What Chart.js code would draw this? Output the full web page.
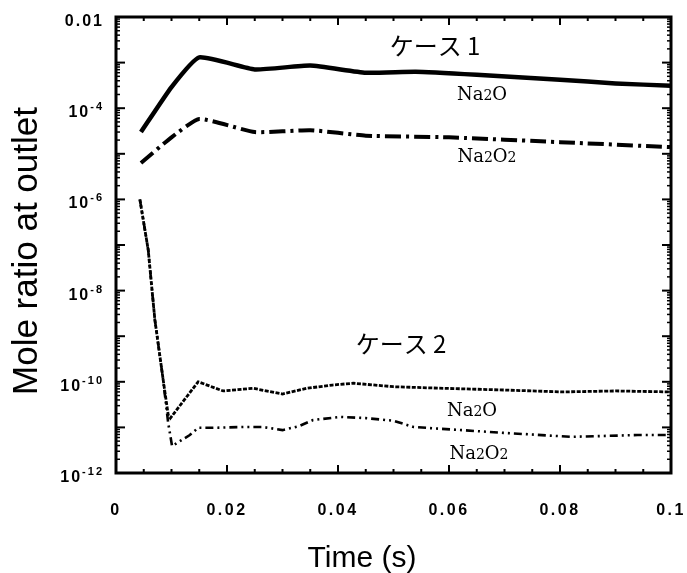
<!DOCTYPE html>
<html><head><meta charset="utf-8">
<script src="https://cdn.jsdelivr.net/npm/chart.js@4.4.1/dist/chart.umd.min.js"></script>
<style>html,body{margin:0;padding:0;background:#fff}#wrap{width:687px;height:573px}</style>
</head><body><div id="wrap"><canvas id="c" width="687" height="573"></canvas></div>
<script>
// ---- data ----
const xTickValues = [0, 0.02, 0.04, 0.06, 0.08, 0.1];
const xTickLabels = ['0', '0.02', '0.04', '0.06', '0.08', '0.1'];
const yTickValues = [1e-12, 1e-10, 1e-8, 1e-6, 1e-4, 1e-2];
const yTickBases = ['10', '10', '10', '10', '10', '0.01'];
const yTickExponents = ['-12', '-10', '-8', '-6', '-4', ''];

// ケース 1
const case1Na2O_t  = [0.0045, 0.01, 0.015, 0.025, 0.035, 0.045, 0.054, 0.065, 0.08, 0.09, 0.1];
const case1Na2O_v  = [3.0e-5, 2.9e-4, 1.3e-3, 7.1e-4, 8.6e-4, 6.0e-4, 6.3e-4, 5.4e-4, 4.2e-4, 3.5e-4, 3.1e-4];
const case1Na2O2_t = [0.0045, 0.01, 0.015, 0.025, 0.035, 0.045, 0.06, 0.08, 0.1];
const case1Na2O2_v = [6.3e-6, 2.3e-5, 5.8e-5, 3.0e-5, 3.3e-5, 2.5e-5, 2.3e-5, 1.8e-5, 1.4e-5];

// ケース 2
const case2Na2O_t  = [0.0043, 0.0058, 0.007, 0.0085, 0.0094, 0.0098, 0.0148, 0.0193, 0.0247, 0.03, 0.0344, 0.039, 0.0428, 0.05, 0.059, 0.07, 0.0805, 0.09, 0.1];
const case2Na2O_v  = [1.0e-6, 7.9e-8, 2.3e-9, 1.1e-10, 1.9e-11, 1.6e-11, 1.0e-10, 6.3e-11, 7.2e-11, 5.4e-11, 7.2e-11, 8.5e-11, 9.3e-11, 7.8e-11, 7.2e-11, 6.6e-11, 6.0e-11, 6.3e-11, 6.0e-11];
const case2Na2O2_t = [0.0043, 0.0058, 0.007, 0.0085, 0.0094, 0.0101, 0.0133, 0.0148, 0.0175, 0.023, 0.0265, 0.03, 0.033, 0.0355, 0.0404, 0.045, 0.05, 0.0536, 0.0698, 0.082, 0.094, 0.1];
const case2Na2O2_v = [1.0e-6, 7.9e-8, 2.3e-9, 1.1e-10, 1.26e-11, 3.9e-12, 6.8e-12, 9.8e-12, 9.8e-12, 1.02e-11, 1.02e-11, 8.7e-12, 1.07e-11, 1.45e-11, 1.7e-11, 1.6e-11, 1.4e-11, 1.02e-11, 7.6e-12, 6.2e-12, 6.8e-12, 6.8e-12];

const xTitle = 'Time (s)';
const yTitle = 'Mole ratio at outlet';

// ---- chart ----
const pts = (t, v) => t.map((x, i) => ({x: x, y: v[i]}));
const SANS = "'Liberation Sans','DejaVu Sans',Arial,sans-serif";
const SERIF = "'DejaVu Serif','Liberation Serif',serif";
const JP = "'Noto Sans CJK JP',sans-serif";

function runs(ctx, x, y, parts, align) {
  // parts: [text, font, dy]
  let w = 0;
  parts.forEach(p => { ctx.font = p[1]; w += ctx.measureText(p[0]).width; });
  let cx = align === 'center' ? x - w / 2 : (align === 'right' ? x - w : x);
  ctx.textAlign = 'left';
  parts.forEach(p => { ctx.font = p[1]; ctx.fillText(p[0], cx, y + (p[2] || 0)); cx += ctx.measureText(p[0]).width; });
}

const decor = {
  id: 'decor',
  beforeDraw(chart) { chart.ctx.letterSpacing = '2.5px'; },
  beforeDatasetsDraw(chart) { chart.ctx.letterSpacing = '0px'; },
  afterDraw(chart) {
    const ctx = chart.ctx, a = chart.chartArea, xs = chart.scales.x, ys = chart.scales.y;
    ctx.save();
    ctx.letterSpacing = '0px';
    ctx.strokeStyle = '#000';
    ctx.lineCap = 'butt';
    const seg = (x1, y1, x2, y2) => { ctx.beginPath(); ctx.moveTo(x1, y1); ctx.lineTo(x2, y2); ctx.stroke(); };
    // ticks on x (top & bottom)
    ctx.lineWidth = 2;
    for (let i = 0; i <= 20; i++) {
      const px = xs.getPixelForValue(i * 0.005);
      const L = (i % 4 === 0) ? 8 : 4;
      seg(px, a.bottom, px, a.bottom - L);
      seg(px, a.top, px, a.top + L);
    }
    // ticks on y (left & right)
    for (let e = -12; e <= -2; e++) {
      const py = ys.getPixelForValue(Math.pow(10, e));
      ctx.lineWidth = 2;
      seg(a.left, py, a.left + 9, py);
      seg(a.right, py, a.right - 9, py);
      if (e < -2) {
        ctx.lineWidth = 1.5;
        for (let m = 2; m <= 9; m++) {
          const q = ys.getPixelForValue(m * Math.pow(10, e));
          seg(a.left, q, a.left + 4, q);
          seg(a.right, q, a.right - 4, q);
        }
      }
    }
    // frame
    ctx.lineWidth = 3;
    ctx.strokeRect(a.left, a.top, a.right - a.left, a.bottom - a.top);

    ctx.fillStyle = '#000';
    // y tick labels (with superscript exponents)
    ctx.textBaseline = 'alphabetic';
    ctx.letterSpacing = '2px';
    yTickValues.forEach((v, i) => {
      const py = ys.getPixelForValue(v);
      const parts = [[yTickBases[i], 'bold 16px ' + SANS, 0]];
      if (yTickExponents[i]) parts.push([yTickExponents[i], 'bold 11px ' + SANS, -7]);
      runs(ctx, 104, py + 9, parts, 'right');
    });
    ctx.letterSpacing = '0px';

    // annotations
    ctx.textBaseline = 'middle';
    ctx.textAlign = 'center';
    ctx.font = '24px ' + JP;
    ctx.fillText('ケース 1', 435, 46);
    ctx.fillText('ケース 2', 401, 344);
    const big = '18px ' + SERIF, small = '14px ' + SERIF;
    ctx.textBaseline = 'alphabetic';
    runs(ctx, 482, 100, [['Na', big], ['2', small], ['O', big]], 'center');
    runs(ctx, 487, 162, [['Na', big], ['2', small], ['O', big], ['2', small]], 'center');
    runs(ctx, 472, 416, [['Na', big], ['2', small], ['O', big]], 'center');
    runs(ctx, 479, 459, [['Na', big], ['2', small], ['O', big], ['2', small]], 'center');

    // axis titles
    ctx.textBaseline = 'middle';
    ctx.textAlign = 'center';
    ctx.font = '30px ' + SANS;
    ctx.fillText(xTitle, 362, 559);
    ctx.translate(27, 251);
    ctx.rotate(-Math.PI / 2);
    ctx.font = '35px ' + SANS;
    ctx.fillText(yTitle, 0, 0);
    ctx.restore();
  }
};

new Chart(document.getElementById('c'), {
  type: 'line',
  data: {
    datasets: [
      {label: 'ケース 1 Na2O', data: pts(case1Na2O_t, case1Na2O_v), borderColor: '#000', borderWidth: 4.5, pointRadius: 0, fill: false, tension: 0.15},
      {label: 'ケース 1 Na2O2', data: pts(case1Na2O2_t, case1Na2O2_v), borderColor: '#000', borderWidth: 4, borderDash: [16, 5, 3, 5], pointRadius: 0, fill: false, tension: 0.15},
      {label: 'ケース 2 Na2O', data: pts(case2Na2O_t, case2Na2O_v), borderColor: '#000', borderWidth: 2.8, borderDash: [4, 1.5], pointRadius: 0, fill: false, tension: 0},
      {label: 'ケース 2 Na2O2', data: pts(case2Na2O2_t, case2Na2O2_v), borderColor: '#000', borderWidth: 2.6, borderDash: [8, 4, 2, 4, 2, 4], pointRadius: 0, fill: false, tension: 0}
    ]
  },
  options: {
    responsive: false,
    animation: false,
    events: [],
    layout: {padding: {left: 0, right: 16, top: 17, bottom: 0}},
    plugins: {legend: {display: false}, tooltip: {enabled: false}},
    scales: {
      x: {
        type: 'linear', min: 0, max: 0.1,
        grid: {display: false, drawTicks: false}, border: {display: false},
        afterBuildTicks(s) { s.ticks = xTickValues.map(v => ({value: v})); },
        afterFit(s) { s.height = 100; s.paddingLeft = 0; s.paddingRight = 0; },
        ticks: {padding: 28, color: '#000', maxRotation: 0, autoSkip: false,
          font: {family: SANS, size: 16, weight: 'bold'},
          callback: (v, i) => xTickLabels[i]}
      },
      y: {
        type: 'logarithmic', min: 1e-12, max: 1e-2,
        grid: {display: false, drawTicks: false}, border: {display: false},
        afterBuildTicks(s) { s.ticks = yTickValues.map(v => ({value: v})); },
        afterFit(s) { s.width = 116; s.paddingTop = 0; s.paddingBottom = 0; },
        ticks: {display: false}
      }
    }
  },
  plugins: [decor]
});
</script>
</body></html>
